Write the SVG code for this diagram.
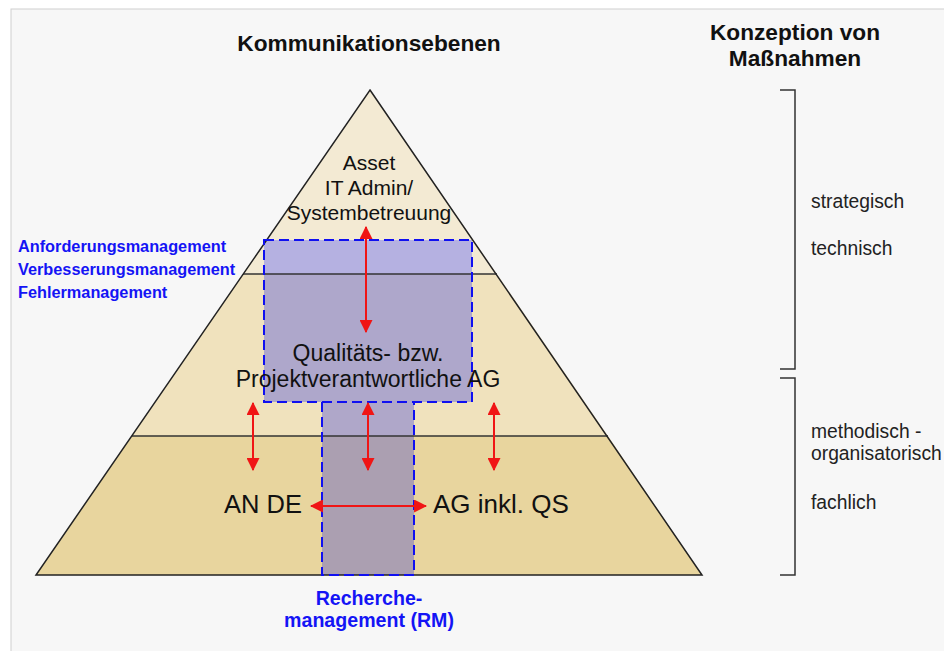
<svg xmlns="http://www.w3.org/2000/svg" width="944" height="651" viewBox="0 0 944 651">
<defs>
<style>
.t{font-family:"Liberation Sans",Arial,sans-serif;}
.h{font-family:"Liberation Sans",Arial,sans-serif;font-weight:bold;font-size:22.7px;fill:#111;text-anchor:middle;}
.p{font-family:"Liberation Sans",Arial,sans-serif;font-size:21px;fill:#111;text-anchor:middle;}
.pm{font-family:"Liberation Sans",Arial,sans-serif;font-size:23px;fill:#111;text-anchor:middle;}
.b{font-family:"Liberation Sans",Arial,sans-serif;font-weight:bold;fill:#1414f5;}
.r{font-family:"Liberation Sans",Arial,sans-serif;font-size:19.3px;fill:#222;}
.dash{fill:none;stroke:#1010f0;stroke-width:2;stroke-dasharray:10 5;}
.arr{stroke:#f01515;stroke-width:2;fill:none;marker-start:url(#ah);marker-end:url(#ah);}
.br{fill:none;stroke:#333;stroke-width:1.5;}
</style>
<marker id="ah" viewBox="0 0 12 12" refX="11" refY="6" markerWidth="13" markerHeight="13" markerUnits="userSpaceOnUse" orient="auto-start-reverse">
<path d="M0,0 L12,6 L0,12 Z" fill="#f01515"/>
</marker>
</defs>
<rect x="0" y="0" width="944" height="651" fill="#ffffff"/>
<rect x="11" y="9" width="940" height="650" fill="#f7f7f7" stroke="#cfcfcf" stroke-width="1"/>

<g id="pyramid">
<polygon points="370,90 243,274 497,274" fill="#f3ead3"/>
<polygon points="243,274 497,274 608,436 132,436" fill="#f0e2bd"/>
<polygon points="132,436 608,436 702,575 36,575" fill="#e8d59e"/>
</g>

<g id="rm-box">
<rect x="264" y="240" width="208" height="34" fill="#b5b1e1"/>
<rect x="264" y="274" width="208" height="128" fill="#aea7cb"/>
<rect x="322" y="402" width="92" height="34" fill="#afa7c9"/>
<rect x="322" y="436" width="92" height="139" fill="#ab9fb1"/>
</g>

<g id="pyramid-lines">
<line x1="243" y1="274" x2="497" y2="274" stroke="#333" stroke-width="1.3"/>
<line x1="132" y1="436" x2="608" y2="436" stroke="#333" stroke-width="1.3"/>
<polygon points="370,90 702,575 36,575" fill="none" stroke="#222" stroke-width="1.5"/>
</g>

<g id="rm-outline">
<rect class="dash" x="264" y="240" width="208" height="162"/>
<path class="dash" d="M322,402 V575 H414 V402"/>
</g>

<g id="connectors">
<line class="arr" x1="366" y1="227" x2="366" y2="332"/>
<line class="arr" x1="253" y1="403" x2="253" y2="470"/>
<line class="arr" x1="368" y1="403" x2="368" y2="470"/>
<line class="arr" x1="494" y1="403" x2="494" y2="470"/>
<line class="arr" x1="311" y1="506" x2="426" y2="506"/>
</g>

<g id="title">
<text class="h" x="369" y="51">Kommunikationsebenen</text>
</g>
<g id="conception-title">
<text class="h" x="795" y="40">Konzeption von</text>
<text class="h" x="795" y="66">Maßnahmen</text>
</g>

<g id="level-top">
<text class="p" x="369" y="170">Asset</text>
<text class="p" x="369" y="195">IT Admin/</text>
<text class="p" x="369" y="220">Systembetreuung</text>
</g>
<g id="level-middle">
<text class="pm" x="368" y="361">Qualitäts- bzw.</text>
<text class="pm" x="368" y="387">Projektverantwortliche AG</text>
</g>
<g id="level-bottom">
<text class="t" x="224" y="513" font-size="25.5" fill="#111">AN DE</text>
<text class="t" x="433" y="513" font-size="26" fill="#111">AG inkl. QS</text>
</g>

<g id="left-labels">
<text class="b" x="18" y="252" font-size="16.3">Anforderungsmanagement</text>
<text class="b" x="18" y="275" font-size="16.3">Verbesserungsmanagement</text>
<text class="b" x="18" y="298" font-size="16.3">Fehlermanagement</text>
</g>

<g id="rm-label">
<text class="b" x="369" y="605" font-size="19.6" text-anchor="middle">Recherche-</text>
<text class="b" x="369" y="627" font-size="19.6" text-anchor="middle">management (RM)</text>
</g>

<g id="bracket-upper">
<path class="br" d="M780,90 H795 V369 H780"/>
<text class="r" x="811" y="208">strategisch</text>
<text class="r" x="811" y="255">technisch</text>
</g>
<g id="bracket-lower">
<path class="br" d="M780,378 H795 V575 H780"/>
<text class="r" x="811" y="438">methodisch -</text>
<text class="r" x="811" y="460">organisatorisch</text>
<text class="r" x="811" y="509">fachlich</text>
</g>
</svg>
